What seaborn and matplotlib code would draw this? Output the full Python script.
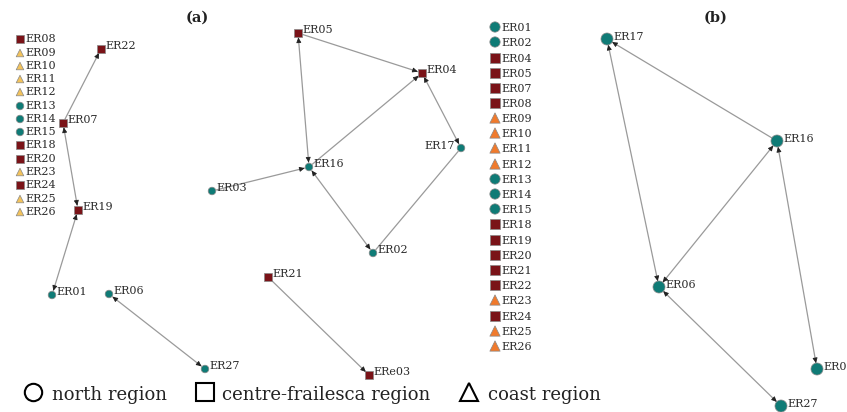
import numpy as np
import pandas as pd
import matplotlib
matplotlib.use("Agg")
import matplotlib.pyplot as plt
import seaborn as sns

sns.set_theme(style="white")
plt.rcParams['font.family'] = ['DejaVu Serif']

# ---------------- data ----------------
# Panel (a): isolated nodes (list column)
a_list_names = ["ER08", "ER09", "ER10", "ER11", "ER12", "ER13", "ER14", "ER15",
                "ER18", "ER20", "ER23", "ER24", "ER25", "ER26"]
a_list_region = ["centre", "coast", "coast", "coast", "coast", "north", "north", "north",
                 "centre", "centre", "coast", "centre", "coast", "coast"]
a_list_x = [20] * 14
a_list_y = [39, 53, 66, 79, 92, 106, 119, 132, 145, 159, 172, 185, 199, 212]

# Panel (a): connected nodes
a_names = ["ER22", "ER07", "ER19", "ER01", "ER06", "ER27", "ER21", "ERe03",
           "ER05", "ER04", "ER17", "ER16", "ER03", "ER02"]
a_region = ["centre", "centre", "centre", "north", "north", "north", "centre", "centre",
            "centre", "centre", "north", "north", "north", "north"]
a_x = [101, 63, 78, 52, 109, 205, 268, 369, 298, 422, 461, 309, 212, 373]
a_y = [49, 123, 210, 295, 294, 369, 277, 375, 33, 73, 148, 167, 191, 253]
a_edges = [("ER07", "ER22", "dst"), ("ER07", "ER19", "both"), ("ER01", "ER19", "both"),
           ("ER06", "ER27", "both"), ("ER21", "ERe03", "dst"), ("ER05", "ER04", "dst"),
           ("ER05", "ER16", "both"), ("ER16", "ER04", "dst"), ("ER17", "ER04", "both"),
           ("ER02", "ER17", "none"), ("ER03", "ER16", "dst"), ("ER16", "ER02", "both")]

# Panel (b): isolated nodes (list column)
b_list_names = ["ER01", "ER02", "ER04", "ER05", "ER07", "ER08", "ER09", "ER10", "ER11",
                "ER12", "ER13", "ER14", "ER15", "ER18", "ER19", "ER20", "ER21", "ER22",
                "ER23", "ER24", "ER25", "ER26"]
b_list_region = ["north", "north", "centre", "centre", "centre", "centre", "coast", "coast",
                 "coast", "coast", "north", "north", "north", "centre", "centre", "centre",
                 "centre", "centre", "coast", "centre", "coast", "coast"]
b_list_x = [495] * 22
b_list_y = [27, 42, 58, 73, 88, 103, 118, 133, 148, 164, 179, 194, 209, 224, 240, 255,
            270, 285, 300, 316, 331, 346]

# Panel (b): connected nodes (label "ER0" is shown truncated in the source)
b_names = ["ER17", "ER16", "ER06", "ER0", "ER27"]
b_region = ["north"] * 5
b_x = [607, 777, 659, 817, 781]
b_y = [39, 141, 287, 369, 406]
b_edges = [("ER16", "ER17", "dst"), ("ER17", "ER06", "both"), ("ER06", "ER16", "both"),
           ("ER16", "ER0", "both"), ("ER06", "ER27", "both")]

legend_labels = ["north region", "centre-frailesca region", "coast region"]

# ---------------- styling ----------------
TEAL = "#0f7b76"
DRED = "#7a1318"
YEL = "#f3c35c"
ORA = "#f07a2c"
markers = {"north": "o", "centre": "s", "coast": "^"}
pal_a = {"north": TEAL, "centre": DRED, "coast": YEL}
pal_b = {"north": TEAL, "centre": DRED, "coast": ORA}

W, H = 847, 412
fig = plt.figure(figsize=(W / 100, H / 100), dpi=100)
ax = fig.add_axes([0, 0, 1, 1])
ax.set_xlim(0, W)
ax.set_ylim(H, 0)
ax.axis("off")


def draw_edges(names, xs, ys, edges, r):
    pos = {n: np.array([x, y], float) for n, x, y in zip(names, xs, ys)}
    for s, t, heads in edges:
        p, q = pos[s], pos[t]
        d = (q - p) / np.linalg.norm(q - p)
        a0, b0 = p + d * r, q - d * r
        ax.plot([a0[0], b0[0]], [a0[1], b0[1]], color="#9a9a9a", lw=0.9, zorder=1)
        ends = []
        if heads in ("dst", "both"):
            ends.append((b0, -d))
        if heads == "both":
            ends.append((a0, d))
        for tip, back in ends:
            ax.annotate("", xy=tip, xytext=tip + back * 4,
                        arrowprops=dict(arrowstyle="-|>,head_length=0.25,head_width=0.12",
                                        color="#222222", lw=0.6, shrinkA=0, shrinkB=0),
                        zorder=2)


draw_edges(a_names, a_x, a_y, a_edges, 4.5)
draw_edges(b_names, b_x, b_y, b_edges, 6)

df_a = pd.DataFrame({"name": a_list_names + a_names,
                     "x": a_list_x + a_x, "y": a_list_y + a_y,
                     "region": a_list_region + a_region})
df_b_list = pd.DataFrame({"name": b_list_names, "x": b_list_x, "y": b_list_y,
                          "region": b_list_region})
df_b = pd.DataFrame({"name": b_names, "x": b_x, "y": b_y, "region": b_region})

sns.scatterplot(data=df_a, x="x", y="y", hue="region", style="region", markers=markers,
                palette=pal_a, s=30, edgecolor="#888888", linewidth=0.5,
                legend=False, ax=ax, zorder=3)
sns.scatterplot(data=df_b_list, x="x", y="y", hue="region", style="region", markers=markers,
                palette=pal_b, s=55, edgecolor="#888888", linewidth=0.5,
                legend=False, ax=ax, zorder=3)
sns.scatterplot(data=df_b, x="x", y="y", hue="region", style="region", markers=markers,
                palette=pal_b, s=75, edgecolor="#888888", linewidth=0.5,
                legend=False, ax=ax, zorder=3)
ax.set_xlim(0, W)
ax.set_ylim(H, 0)
ax.axis("off")

lab_kw = dict(fontsize=8, color="#2a2a2a", va="center", clip_on=True, zorder=4)
for n, x, y in zip(a_list_names, a_list_x, a_list_y):
    ax.text(x + 5, y, n, ha="left", **lab_kw)
for n, x, y in zip(a_names, a_x, a_y):
    if n == "ER17":
        ax.text(x - 6, y - 2, n, ha="right", **lab_kw)
    else:
        ax.text(x + 4, y - 3, n, ha="left", **lab_kw)
for n, x, y in zip(b_list_names, b_list_x, b_list_y):
    ax.text(x + 6, y + 1, n, ha="left", **lab_kw)
for n, x, y in zip(b_names, b_x, b_y):
    ax.text(x + 6, y - 2, n, ha="left", **lab_kw)

ax.text(197, 18, "(a)", fontsize=10.5, fontweight="bold", ha="center", va="center",
        color="#222222")
ax.text(716, 18, "(b)", fontsize=10.5, fontweight="bold", ha="center", va="center",
        color="#222222")

# bottom legend
leg_mk = [("o", 33), ("s", 205), ("^", 469)]
leg_tx = [52, 222, 488]
for (m, mx), tx, lab in zip(leg_mk, leg_tx, legend_labels):
    ax.plot([mx], [392], marker=m, markersize=12.5 if m != "^" else 13.5,
            markerfacecolor="white", markeredgecolor="black", markeredgewidth=1.5,
            linestyle="none", zorder=5)
    ax.text(tx, 395, lab, fontsize=13, ha="left", va="center", color="#222222")

fig.savefig("out.png", dpi=100)
